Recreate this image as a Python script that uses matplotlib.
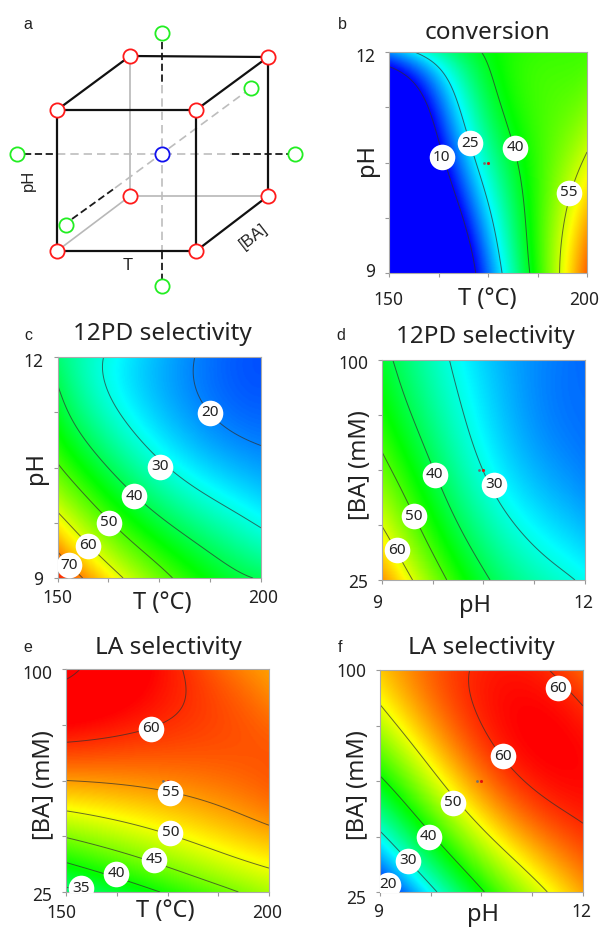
import numpy as np
import matplotlib
matplotlib.use('Agg')
import matplotlib.pyplot as plt
from matplotlib.colors import LinearSegmentedColormap
from matplotlib.transforms import ScaledTranslation
from numpy.polynomial import polynomial as P

W, H = 599, 927
plt.rcParams['font.family'] = ['Noto Sans', 'DejaVu Sans']

# axis values of the grids
T_vals = [150, 160, 170, 180, 190, 200]
PH_vals = [9, 9.6, 10.2, 10.8, 11.4, 12]
BA_vals = [25, 40, 55, 70, 85, 100]

# response surfaces, first row = lowest y value
conversion = [
    [-42, -18, 5.5, 28.3, 49, 67.5],
    [-33, -11, 11, 31.8, 48.7, 64],
    [-24, -3, 17.8, 35.5, 48, 58.5],
    [-15, 5, 25, 38.5, 47, 54],
    [-3, 12, 31, 41.5, 47, 49],
    [19, 28.5, 38, 43, 45.5, 46],
]
pd_T_pH = [
    [77, 66, 56.5, 48.8, 43, 39.5],
    [65.3, 55.2, 47, 40.6, 35.3, 31],
    [55.2, 46.2, 38.3, 32, 27.8, 24.5],
    [47, 38, 31, 25.7, 22, 20],
    [41.7, 32.5, 26.3, 21.8, 18.7, 17.3],
    [37.5, 30.8, 25.5, 21.5, 18, 16.5],
]
pd_pH_BA = [
    [69, 57, 45.7, 37.7, 32.7, 29],
    [61.5, 50.5, 40, 33, 27.8, 24.5],
    [55, 45, 35.5, 28.5, 24, 21],
    [49.5, 40.5, 32, 25.5, 21.3, 19],
    [45.5, 37, 29.5, 24, 20, 18.5],
    [42, 34.5, 28, 23, 20, 18],
]
la_T_BA = [
    [34, 36.5, 39, 42, 44.3, 47],
    [43, 45, 47, 49, 51, 52.5],
    [51.5, 52.5, 53.5, 54.5, 55.5, 57],
    [58, 57.8, 57.6, 57.8, 58, 58],
    [62.8, 62, 61, 59.7, 58.5, 57],
    [65.5, 64, 62, 59.7, 57, 55],
]
la_pH_BA = [
    [16, 26, 35.5, 43, 49.4, 54.5],
    [27, 35.5, 43.3, 50, 55, 58.5],
    [34.5, 42.5, 50.5, 56, 59.5, 60.7],
    [43.5, 50, 55.5, 59.8, 61.8, 62],
    [48.5, 54, 59, 61.2, 62, 60.3],
    [53, 56.7, 59.5, 61, 60.3, 57.5],
]

# contour levels and where their labels sit
conv_levels = [10, 25, 40, 55]
conv_labels = [(163.3, 10.57, '10'), (170.4, 10.76, '25'), (181.9, 10.70, '40'), (195.5, 10.09, '55')]
pd1_levels = [20, 30, 40, 50, 60, 70]
pd1_labels = [(187.5, 11.24, '20'), (175.2, 10.51, '30'), (168.9, 10.11, '40'),
              (162.7, 9.75, '50'), (157.5, 9.44, '60'), (152.9, 9.17, '70')]
pd2_levels = [30, 40, 50, 60]
pd2_labels = [(9.78, 60.8, '40'), (10.65, 57.4, '30'), (9.47, 46.7, '50'), (9.22, 35.2, '60')]
la1_levels = [35, 40, 45, 50, 55, 60, 65]
la1_labels = [(170.9, 79.9, '60'), (175.7, 58.4, '55'), (175.7, 45, '50'),
              (171.7, 35.9, '45'), (162.3, 31.2, '40'), (153.6, 26.3, '35')]
la2_levels = [20, 30, 40, 50, 60]
la2_labels = [(11.63, 93.8, '60'), (10.82, 70.8, '60'), (10.08, 55.2, '50'),
              (9.72, 43.7, '40'), (9.41, 35.6, '30'), (9.12, 27.5, '20')]

# cube drawing of panel a, in picture pixels
cube_black = [((57, 110), (130, 56)), ((130, 56), (268, 57)), ((268, 57), (196, 110)),
              ((57, 110), (196, 110)), ((57, 110), (57, 251)), ((196, 110), (196, 251)),
              ((57, 251), (196, 251)), ((196, 251), (268, 196)), ((268, 57), (268, 196))]
cube_grey = [((130, 56), (130, 196)), ((130, 196), (268, 196)), ((130, 196), (57, 251))]
dash_grey = [((162, 85), (162, 252)), ((57, 154), (232, 154)), ((115, 188), (251, 88))]
dash_black = [((162, 42), (162, 85)), ((162, 252), (162, 280)), ((24, 154), (57, 154)),
              ((232, 154), (288, 154)), ((72, 219), (115, 188))]
red_pts = [(57, 110), (130, 56), (268, 57), (196, 110), (57, 251), (196, 251), (130, 196), (268, 196)]
green_pts = [(162, 33), (162, 286), (17, 154), (295, 154), (251, 88), (66, 225)]
center_pt = [(162, 154)]

cmap = LinearSegmentedColormap.from_list('rsm', ['#0000ff', '#00ffff', '#00ff00', '#ffff00', '#ff0000'])


def add_axes_px(x0, y0, x1, y1):
    return fig.add_axes([x0 / W, 1 - y1 / H, (x1 - x0) / W, (y1 - y0) / H])


def shift_label(label, dx, dy):
    # dx, dy in picture pixels (y downwards)
    label.set_transform(label.get_transform() + ScaledTranslation(dx / 100, -dy / 100, fig.dpi_scale_trans))


def response_surface(xs, ys, grid, deg=(4, 4)):
    u = (np.array(xs) - xs[0]) / (xs[-1] - xs[0])
    v = (np.array(ys) - ys[0]) / (ys[-1] - ys[0])
    U, V = np.meshgrid(u, v)
    A = P.polyvander2d(U.ravel(), V.ravel(), deg)
    coef = np.linalg.lstsq(A, np.array(grid, dtype=float).ravel(), rcond=None)[0]
    coef = coef.reshape(deg[0] + 1, deg[1] + 1)
    uf = np.linspace(0, 1, 220)
    vf = np.linspace(0, 1, 220)
    Uf, Vf = np.meshgrid(uf, vf)
    Zf = P.polyval2d(Uf, Vf, coef)
    return xs[0] + uf * (xs[-1] - xs[0]), ys[0] + vf * (ys[-1] - ys[0]), Zf


def contour_panel(box, xs, ys, grid, levels, labels, vmin, vmax, title, title_xy,
                  xlabel, xlabel_xy, ylabel, ylabel_xy, xpad, ypad, xshift, yshift):
    ax = add_axes_px(*box)
    xf, yf, zf = response_surface(xs, ys, grid)
    ax.pcolormesh(xf, yf, zf, shading='gouraud', cmap=cmap, vmin=vmin, vmax=vmax, rasterized=True)
    ax.contour(xf, yf, zf, levels=levels, colors='#303030', linewidths=0.7, alpha=0.7)
    for lx, ly, s in labels:
        ax.scatter([lx], [ly], s=340, c='white', linewidths=0, zorder=4)
        ax.text(lx, ly, s, ha='center', va='center', fontsize=11, color='#222222', zorder=5)
    # centre point
    cx, cy = (xs[0] + xs[-1]) / 2, (ys[0] + ys[-1]) / 2
    ax.scatter([cx], [cy], s=5, c='#e01010', linewidths=0, zorder=3)
    ax.scatter([cx - (xs[-1] - xs[0]) * 0.022], [cy], s=4, c='#707070', linewidths=0, zorder=3)
    ax.set_xlim(xs[0], xs[-1])
    ax.set_ylim(ys[0], ys[-1])
    xt = np.linspace(xs[0], xs[-1], 5)
    yt = np.linspace(ys[0], ys[-1], 5)
    ax.set_xticks(xt, [f'{xs[0]:g}', '', '', '', f'{xs[-1]:g}'])
    ax.set_yticks(yt, [f'{ys[0]:g}', '', '', '', f'{ys[-1]:g}'])
    ax.tick_params(axis='x', length=3, width=0.8, color='#999999', labelsize=12.5, pad=xpad, labelcolor='#222222')
    ax.tick_params(axis='y', length=3, width=0.8, color='#999999', labelsize=12.5, pad=ypad, labelcolor='#222222')
    xl = ax.get_xticklabels()
    yl = ax.get_yticklabels()
    shift_label(xl[0], xshift[0], 0)
    shift_label(xl[-1], xshift[1], 0)
    shift_label(yl[0], 0, yshift[0])
    shift_label(yl[-1], 0, yshift[1])
    for s in ax.spines.values():
        s.set_color('#aaaaaa')
        s.set_linewidth(0.8)
    fig.text(title_xy[0] / W, 1 - title_xy[1] / H, title, ha='center', va='center', fontsize=17.5, color='#222222')
    fig.text(xlabel_xy[0] / W, 1 - xlabel_xy[1] / H, xlabel, ha='center', va='center', fontsize=17, color='#222222')
    fig.text(ylabel_xy[0] / W, 1 - ylabel_xy[1] / H, ylabel, ha='center', va='center', fontsize=17,
             rotation=90, color='#222222')
    return ax


fig = plt.figure(figsize=(W / 100, H / 100), dpi=100)

# panel a, the design cube
cube = fig.add_axes([0, 0, 1, 1], zorder=5)
cube.set_xlim(0, W)
cube.set_ylim(H, 0)
cube.axis('off')
for seg in cube_grey:
    cube.plot(*zip(*seg), color='#b8b8b8', lw=1.2)
for seg in dash_grey:
    cube.plot(*zip(*seg), color='#bdbdbd', lw=1.2, dashes=(5, 3))
for seg in dash_black:
    cube.plot(*zip(*seg), color='#1a1a1a', lw=1.3, dashes=(4, 2))
for seg in cube_black:
    cube.plot(*zip(*seg), color='#111111', lw=1.6)
cube.scatter(*zip(*red_pts), s=105, facecolors='white', edgecolors='#ff1a1a', linewidths=1.3, zorder=6)
cube.scatter(*zip(*green_pts), s=105, facecolors='white', edgecolors='#22ee22', linewidths=1.3, zorder=6)
cube.scatter(*zip(*center_pt), s=105, facecolors='white', edgecolors='#1010ee', linewidths=1.3, zorder=6)
cube.text(128, 265, 'T', ha='center', va='center', fontsize=12, family='Liberation Sans', color='#222222')
cube.text(28, 180, 'pH', ha='center', va='center', fontsize=12, rotation=90, family='Liberation Sans', color='#222222')
cube.text(254, 236, '[BA]', ha='center', va='center', fontsize=12, rotation=38, family='Liberation Sans', color='#222222')

for s, x, y in [('a', 28, 24), ('b', 342, 24), ('c', 28, 335), ('d', 341, 335), ('e', 28, 647), ('f', 340, 647)]:
    cube.text(x, y, s, ha='center', va='center', fontsize=11.5, family='Liberation Sans', color='#222222')

contour_panel((389, 52, 587, 273), T_vals, PH_vals, conversion, conv_levels, conv_labels, 10, 74,
              'conversion', (488, 33), 'T (°C)', (487, 299), 'pH', (367, 160), 10, 7, (-1, -3), (-3, 3))
contour_panel((57.5, 357, 261, 578), T_vals, PH_vals, pd_T_pH, pd1_levels, pd1_labels, 11, 79,
              '12PD selectivity', (162, 334), 'T (°C)', (162, 603), 'pH', (36, 468), 5, 7, (0, 2), (0, 3))
contour_panel((382, 360, 585, 580), PH_vals, BA_vals, pd_pH_BA, pd2_levels, pd2_labels, 11, 79,
              '12PD selectivity', (485, 337), 'pH', (475, 606), '[BA] (mM)', (360, 465), 7, 7, (-5, -2), (1, 2))
contour_panel((66, 669, 269, 892), T_vals, BA_vals, la_T_BA, la1_levels, la1_labels, 17, 62,
              'LA selectivity', (168, 648), 'T (°C)', (165, 911), '[BA] (mM)', (44, 785), 6, 7, (-5, -2), (2, 3))
contour_panel((380, 670, 583, 892), PH_vals, BA_vals, la_pH_BA, la2_levels, la2_labels, 17, 62,
              'LA selectivity', (481, 648), 'pH', (483, 915), '[BA] (mM)', (358, 785), 5, 7, (-2, -2), (5, 0))

fig.savefig('out.png', dpi=100)
